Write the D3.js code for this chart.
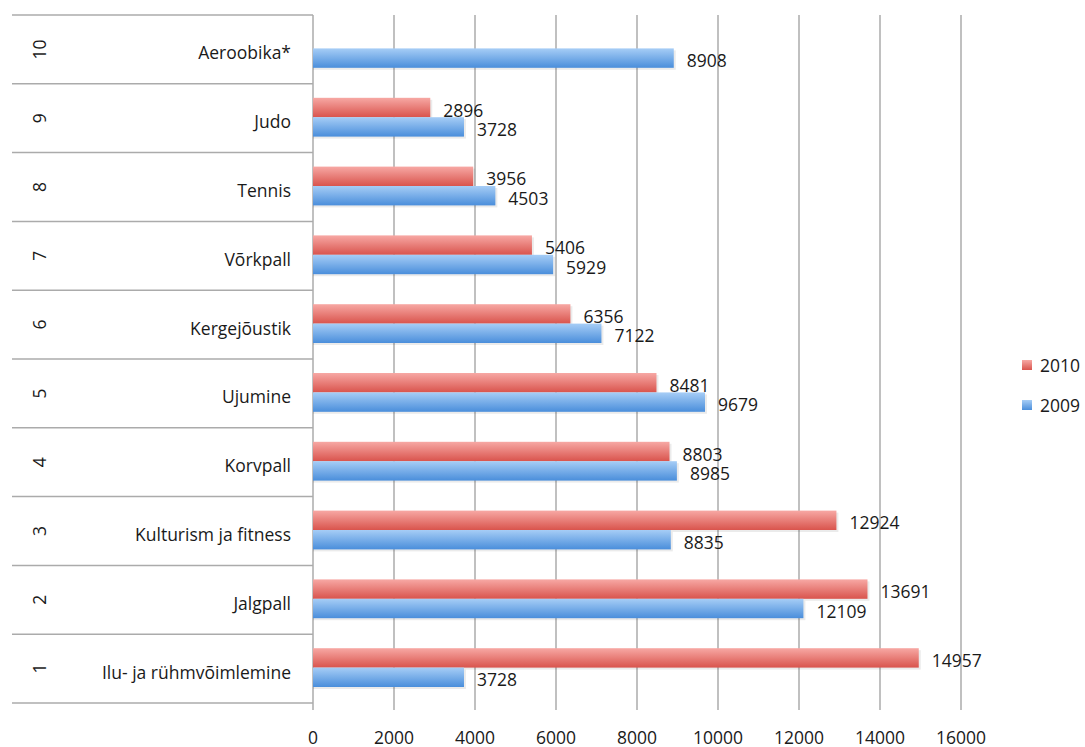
<!DOCTYPE html>
<html>
<head>
<meta charset="utf-8">
<script src="https://cdn.jsdelivr.net/npm/d3@7"></script>
<style>
  body { margin: 0; background: #fff; }
  text { font-family: "Open Sans", Lato, sans-serif; fill: #1a1a1a; font-size: 17.5px; }
</style>
</head>
<body>
<div id="chart"></div>
<script>
// data, listed top row first
var ranks = ["10", "9", "8", "7", "6", "5", "4", "3", "2", "1"];
var sports = ["Aeroobika*", "Judo", "Tennis", "Võrkpall", "Kergejõustik", "Ujumine",
              "Korvpall", "Kulturism ja fitness", "Jalgpall", "Ilu- ja rühmvõimlemine"];
var values2010 = [null, 2896, 3956, 5406, 6356, 8481, 8803, 12924, 13691, 14957];
var values2009 = [8908, 3728, 4503, 5929, 7122, 9679, 8985, 8835, 12109, 3728];
var seriesNames = ["2010", "2009"];
var xTicks = [0, 2000, 4000, 6000, 8000, 10000, 12000, 14000, 16000];

var width = 1085, height = 747;
var mLeft = 313, mRight = 961, mTop = 15, mBottom = 703;

var svg = d3.select("#chart").append("svg")
  .attr("width", width)
  .attr("height", height);

var defs = svg.append("defs");
function grad(id, c1, c2) {
  var g = defs.append("linearGradient").attr("id", id)
    .attr("x1", 0).attr("y1", 0).attr("x2", 0).attr("y2", 1);
  g.append("stop").attr("offset", "0%").attr("stop-color", c1);
  g.append("stop").attr("offset", "100%").attr("stop-color", c2);
}
grad("g2010", "#f7a8a4", "#d9544d");
grad("g2009", "#a6cdf6", "#4a8edb");
var colors = { "2010": "url(#g2010)", "2009": "url(#g2009)" };

var x = d3.scaleLinear().domain([0, 16000]).range([mLeft, mRight]);
var y = d3.scaleBand().domain(ranks).range([mTop, mBottom]);
var bw = y.bandwidth();
var ys = d3.scaleBand().domain(seriesNames).range([14, bw - 16]);

var gridColor = "#ababab";

// vertical gridlines
svg.append("g").selectAll("line")
  .data(xTicks)
  .join("line")
  .attr("x1", function(d) { return x(d); })
  .attr("x2", function(d) { return x(d); })
  .attr("y1", mTop)
  .attr("y2", mBottom + 7)
  .attr("stroke", gridColor)
  .attr("stroke-width", 1.5);

// table lines on the left
var bounds = ranks.map(function(r) { return y(r); }).concat([mBottom]);
svg.append("g").selectAll("line")
  .data(bounds)
  .join("line")
  .attr("x1", 12)
  .attr("x2", mLeft)
  .attr("y1", function(d) { return d; })
  .attr("y2", function(d) { return d; })
  .attr("stroke", gridColor)
  .attr("stroke-width", 1.5);

// x axis labels
svg.append("g").selectAll("text")
  .data(xTicks)
  .join("text")
  .attr("x", function(d) { return x(d); })
  .attr("y", 744)
  .attr("text-anchor", "middle")
  .text(function(d) { return d; });

// category labels
var rows = svg.append("g").selectAll("g")
  .data(ranks)
  .join("g")
  .attr("transform", function(d) { return "translate(0," + (y(d) + bw / 2) + ")"; });

rows.append("text")
  .attr("x", 291)
  .attr("y", 10)
  .attr("text-anchor", "end")
  .text(function(d, i) { return sports[i]; });

rows.append("text")
  .attr("transform", "translate(46,0) rotate(-90)")
  .attr("text-anchor", "middle")
  .text(function(d) { return d; });

// bars
var barData = [];
ranks.forEach(function(r, i) {
  if (values2010[i] != null) barData.push({ rank: r, s: "2010", v: values2010[i] });
  if (values2009[i] != null) barData.push({ rank: r, s: "2009", v: values2009[i] });
});

var bars = svg.append("g");
bars.selectAll("rect.shadow")
  .data(barData)
  .join("rect")
  .attr("class", "shadow")
  .attr("x", x(0))
  .attr("y", function(d) { return y(d.rank) + ys(d.s) + 2; })
  .attr("width", function(d) { return x(d.v) - x(0) + 2; })
  .attr("height", ys.bandwidth())
  .attr("fill", "#000")
  .attr("opacity", 0.08);

bars.selectAll("rect.bar")
  .data(barData)
  .join("rect")
  .attr("class", "bar")
  .attr("x", x(0))
  .attr("y", function(d) { return y(d.rank) + ys(d.s); })
  .attr("width", function(d) { return x(d.v) - x(0); })
  .attr("height", ys.bandwidth())
  .attr("fill", function(d) { return colors[d.s]; });

// value labels
svg.append("g").selectAll("text")
  .data(barData)
  .join("text")
  .attr("x", function(d) { return x(d.v) + 13; })
  .attr("y", function(d) { return y(d.rank) + ys(d.s) + ys.bandwidth() / 2 + 9; })
  .text(function(d) { return d.v; });

// legend
var legend = svg.append("g").selectAll("g")
  .data(seriesNames)
  .join("g")
  .attr("transform", function(d, i) { return "translate(1022," + (360 + i * 40) + ")"; });

legend.append("rect")
  .attr("width", 10)
  .attr("height", 10)
  .attr("fill", function(d) { return colors[d]; });

legend.append("text")
  .attr("x", 18)
  .attr("y", 12)
  .text(function(d) { return d; });
</script>
</body>
</html>
